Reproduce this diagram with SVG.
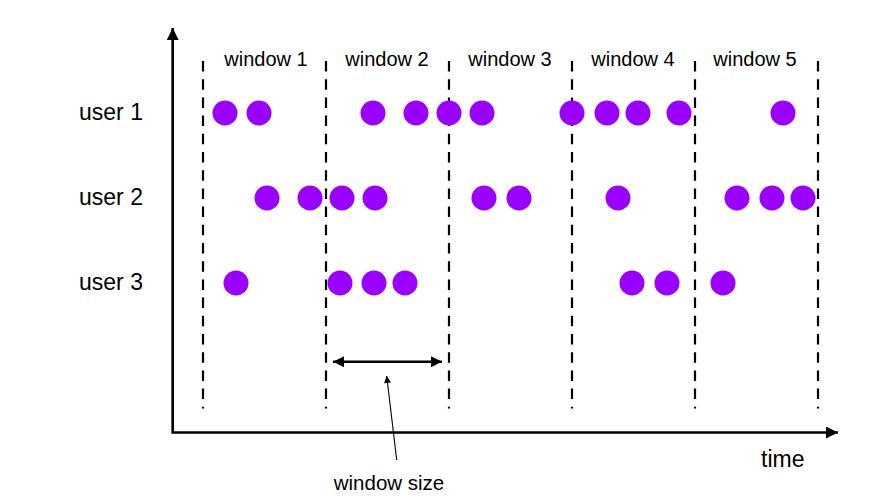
<svg xmlns="http://www.w3.org/2000/svg" width="888" height="503" viewBox="0 0 888 503">
<defs>
<style>
.t{font-family:"Liberation Sans",Arial,sans-serif;fill:#000}
.win{font-size:20px;text-anchor:middle}
.user{font-size:23px}
.dash{stroke:#000;stroke-width:2.2;stroke-dasharray:10.5 7.7;fill:none}
.axis{stroke:#000;stroke-width:2.7;fill:none}
.dot{fill:#9900ff}
</style>
<marker id="ah" viewBox="0 0 10 10" refX="10" refY="5" markerWidth="17" markerHeight="12" markerUnits="userSpaceOnUse" orient="auto-start-reverse"><path d="M0,0 L10,5 L0,10 Z" fill="#000"/></marker>
<marker id="ah2" viewBox="0 0 10 10" refX="10" refY="5" markerWidth="15" markerHeight="11" markerUnits="userSpaceOnUse" orient="auto-start-reverse"><path d="M0,0 L10,5 L0,10 Z" fill="#000"/></marker>
<marker id="ah3" viewBox="0 0 10 10" refX="10" refY="5" markerWidth="9" markerHeight="7" markerUnits="userSpaceOnUse" orient="auto"><path d="M0,0 L10,5 L0,10 Z" fill="#000"/></marker>
</defs>
<rect width="888" height="503" fill="#fff"/>
<g id="windows">
<line class="dash" x1="203" y1="61" x2="203" y2="408.5"/>
<line class="dash" x1="326" y1="61" x2="326" y2="408.5"/>
<line class="dash" x1="449" y1="61" x2="449" y2="408.5"/>
<line class="dash" x1="572" y1="61" x2="572" y2="408.5"/>
<line class="dash" x1="695" y1="61" x2="695" y2="408.5"/>
<line class="dash" x1="818" y1="61" x2="818" y2="408.5"/>
</g>
<g id="window-labels">
<text class="t win" x="266" y="66">window 1</text>
<text class="t win" x="387" y="66">window 2</text>
<text class="t win" x="510" y="66">window 3</text>
<text class="t win" x="633" y="66">window 4</text>
<text class="t win" x="755" y="66">window 5</text>
</g>
<g id="user-labels">
<text class="t user" x="79" y="120">user 1</text>
<text class="t user" x="79" y="205">user 2</text>
<text class="t user" x="79" y="290">user 3</text>
</g>
<g id="user1-events">
<circle class="dot" cx="225" cy="113" r="12.5"/>
<circle class="dot" cx="259" cy="113" r="12.5"/>
<circle class="dot" cx="373" cy="113" r="12.5"/>
<circle class="dot" cx="416" cy="113" r="12.5"/>
<circle class="dot" cx="449" cy="113" r="12.5"/>
<circle class="dot" cx="482" cy="113" r="12.5"/>
<circle class="dot" cx="572" cy="113" r="12.5"/>
<circle class="dot" cx="607" cy="113" r="12.5"/>
<circle class="dot" cx="638" cy="113" r="12.5"/>
<circle class="dot" cx="679" cy="113" r="12.5"/>
<circle class="dot" cx="783" cy="113" r="12.5"/>
</g>
<g id="user2-events">
<circle class="dot" cx="267" cy="198" r="12.5"/>
<circle class="dot" cx="310" cy="198" r="12.5"/>
<circle class="dot" cx="342" cy="198" r="12.5"/>
<circle class="dot" cx="375" cy="198" r="12.5"/>
<circle class="dot" cx="484" cy="198" r="12.5"/>
<circle class="dot" cx="519" cy="198" r="12.5"/>
<circle class="dot" cx="618" cy="198" r="12.5"/>
<circle class="dot" cx="737" cy="198" r="12.5"/>
<circle class="dot" cx="772" cy="198" r="12.5"/>
<circle class="dot" cx="803" cy="198" r="12.5"/>
</g>
<g id="user3-events">
<circle class="dot" cx="236" cy="283" r="12.5"/>
<circle class="dot" cx="340" cy="283" r="12.5"/>
<circle class="dot" cx="374" cy="283" r="12.5"/>
<circle class="dot" cx="405" cy="283" r="12.5"/>
<circle class="dot" cx="632" cy="283" r="12.5"/>
<circle class="dot" cx="667" cy="283" r="12.5"/>
<circle class="dot" cx="723" cy="283" r="12.5"/>
</g>
<g id="connectors">
<polyline class="axis" points="172.7,28 172.7,432.5 838,432.5" marker-start="url(#ah)" marker-end="url(#ah)"/>
<line x1="333" y1="361.7" x2="442" y2="361.7" stroke="#000" stroke-width="2.6" marker-start="url(#ah2)" marker-end="url(#ah2)"/>
<line x1="396.7" y1="460" x2="386.7" y2="376" stroke="#000" stroke-width="1.1" marker-end="url(#ah3)"/>
</g>
<g id="axis-labels">
<text class="t" x="761" y="467" font-size="23">time</text>
<text class="t" x="389" y="490" font-size="20.5" text-anchor="middle">window size</text>
</g>
</svg>
